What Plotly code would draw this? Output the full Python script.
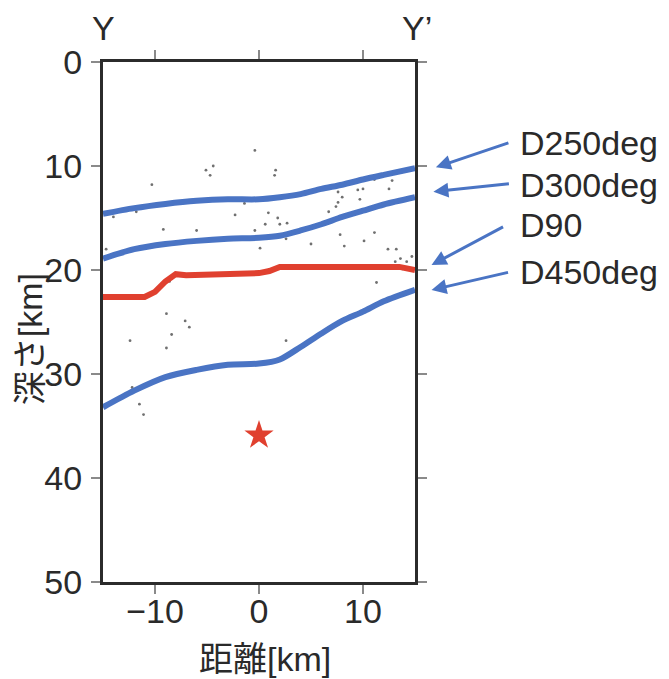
import plotly.graph_objects as go

# ---- data ----
x_ticks = [-10, 0, 10]
y_ticks = [0, 10, 20, 30, 40, 50]

d250_x = [-15, -12, -9, -6, -3, 0, 2, 4, 6, 8, 10, 12, 15]
d250_y = [14.6, 14.05, 13.65, 13.35, 13.2, 13.2, 13.0, 12.7, 12.2, 11.8, 11.3, 10.85, 10.2]

d300_x = [-15, -12, -9, -6, -3, 0, 2, 4, 6, 8, 10, 12, 15]
d300_y = [18.9, 18.0, 17.5, 17.2, 17.0, 16.9, 16.7, 16.2, 15.6, 14.9, 14.3, 13.7, 13.0]

d450_x = [-15, -12, -9, -6, -3, 0, 2, 4, 6, 8, 10, 12, 15]
d450_y = [33.2, 31.6, 30.3, 29.6, 29.1, 29.0, 28.6, 27.4, 26.1, 24.9, 24.0, 23.0, 21.9]

d90_x = [-15, -11, -10, -9, -8, -7, 0, 1, 2, 12, 13.5, 15]
d90_y = [22.6, 22.6, 22.1, 21.1, 20.4, 20.5, 20.3, 20.1, 19.7, 19.6, 19.7, 20.0]

quake_x = [-0.4, -4.4, -5.1, -4.7, -10.3, -1.4, -2.3, -14.0, -11.8, -9.2, -6.0, -0.4, -4.8,
           1.6, 1.5, 12.8, 11.1, 7.6, 9.5, 10.0, 12.5, 8.0, 9.7, 7.6, 7.4, 6.7, 0.9, 1.8,
           0.6, 2.0, 2.7, 2.6, 7.8, 11.1, 10.1, 5.0, 8.2, 0.1, 12.4, 13.2, 13.6, 13.1, 14.2,
           14.7, 13.8, 11.3, 2.6, -14.7, -8.6, -8.9, -7.1, -6.7, -8.4, -12.4, -8.9, -12.2,
           -11.5, -11.1]
quake_y = [8.5, 10.0, 10.4, 10.9, 11.8, 13.6, 14.7, 14.9, 14.4, 16.1, 16.2, 16.2, 17.0,
           10.4, 10.9, 11.4, 11.3, 12.5, 12.3, 12.2, 12.2, 13.0, 13.2, 13.5, 13.9, 14.4, 14.5, 15.0,
           15.6, 15.6, 15.5, 17.0, 16.6, 16.4, 17.2, 17.5, 17.7, 17.9, 18.0, 18.0, 18.9, 19.2, 19.2,
           18.7, 19.9, 21.2, 26.8, 18.0, 21.1, 24.2, 24.9, 25.5, 26.2, 26.8, 27.5, 31.3,
           32.9, 33.9]

main_x = [0]
main_y = [35.9]

labels = ["D250deg", "D300deg", "D90", "D450deg"]

BLUE = "#4A74C4"
RED = "#E0402F"
FONT = "Liberation Sans, Arial, Noto Sans CJK JP, sans-serif"
TXT = "#2a2a2a"
FS = 34

fig = go.Figure()
fig.add_trace(go.Scatter(x=quake_x, y=quake_y, mode="markers",
                         marker=dict(size=2.8, color="#707070"), showlegend=False))
for xs, ys in [(d250_x, d250_y), (d300_x, d300_y), (d450_x, d450_y)]:
    fig.add_trace(go.Scatter(x=xs, y=ys, mode="lines",
                             line=dict(color=BLUE, width=6, shape="spline", smoothing=0.8),
                             showlegend=False))
fig.add_trace(go.Scatter(x=d90_x, y=d90_y, mode="lines",
                         line=dict(color=RED, width=6), showlegend=False))
fig.add_trace(go.Scatter(x=main_x, y=main_y, mode="markers",
                         marker=dict(symbol="star", size=22, color=RED, line=dict(width=0)),
                         showlegend=False))

axis_common = dict(showgrid=False, zeroline=False, showline=True, linewidth=3,
                   linecolor="#2b2b2b", mirror="ticks", ticks="outside", ticklen=9,
                   tickwidth=1.5, tickcolor="#8a8a8a", automargin=False,
                   tickfont=dict(family=FONT, size=FS, color=TXT))

fig.update_xaxes(range=[-15, 15], tickvals=x_ticks, ticktext=["\u221210", "0", "10"],
                 ticklabelstandoff=-12, **axis_common)
fig.update_yaxes(range=[50, 0], tickvals=y_ticks, ticklabelstandoff=2, **axis_common)

ann = []
# axis titles
ann.append(dict(x=0.519, y=-0.148, xref="paper", yref="paper", text="距離[km]", showarrow=False,
                xanchor="center", yanchor="middle", font=dict(family=FONT, size=FS, color=TXT)))
ann.append(dict(x=-0.234, y=0.467, xref="paper", yref="paper", text="深さ[km]", showarrow=False,
                textangle=-90, xanchor="center", yanchor="middle",
                font=dict(family=FONT, size=FS, color=TXT)))
# section end labels
ann.append(dict(x=0.0, y=1.066, xref="paper", yref="paper", text="Y", showarrow=False,
                xanchor="center", yanchor="middle", font=dict(family=FONT, size=FS, color=TXT)))
ann.append(dict(x=1.005, y=1.066, xref="paper", yref="paper", text="Y\u2019", showarrow=False,
                xanchor="center", yanchor="middle", font=dict(family=FONT, size=FS, color=TXT)))
# arrows + labels for the isotherm / D90 curves
heads = [(1.067, 0.7975), (1.059, 0.7506), (1.053, 0.6096), (1.053, 0.5615)]
tails = [(74, -25), (77, -8), (73, -39), (78, -18)]
text_y = [0.8437, 0.7635, 0.6865, 0.5967]
for lab, (hx, hy), (ax_, ay_), ty in zip(labels, heads, tails, text_y):
    ann.append(dict(x=hx, y=hy, xref="paper", yref="paper", ax=ax_, ay=ay_, text="",
                    showarrow=True, arrowhead=2, arrowsize=1.0, arrowwidth=3,
                    arrowcolor=BLUE, standoff=0))
    ann.append(dict(x=1.33, y=ty, xref="paper", yref="paper", text=lab, showarrow=False,
                    xanchor="left", yanchor="middle",
                    font=dict(family=FONT, size=FS, color=TXT)))

fig.update_layout(width=669, height=679, margin=dict(l=103, r=254, t=62, b=97),
                  paper_bgcolor="white", plot_bgcolor="white", annotations=ann)

fig.write_html("out.html")
